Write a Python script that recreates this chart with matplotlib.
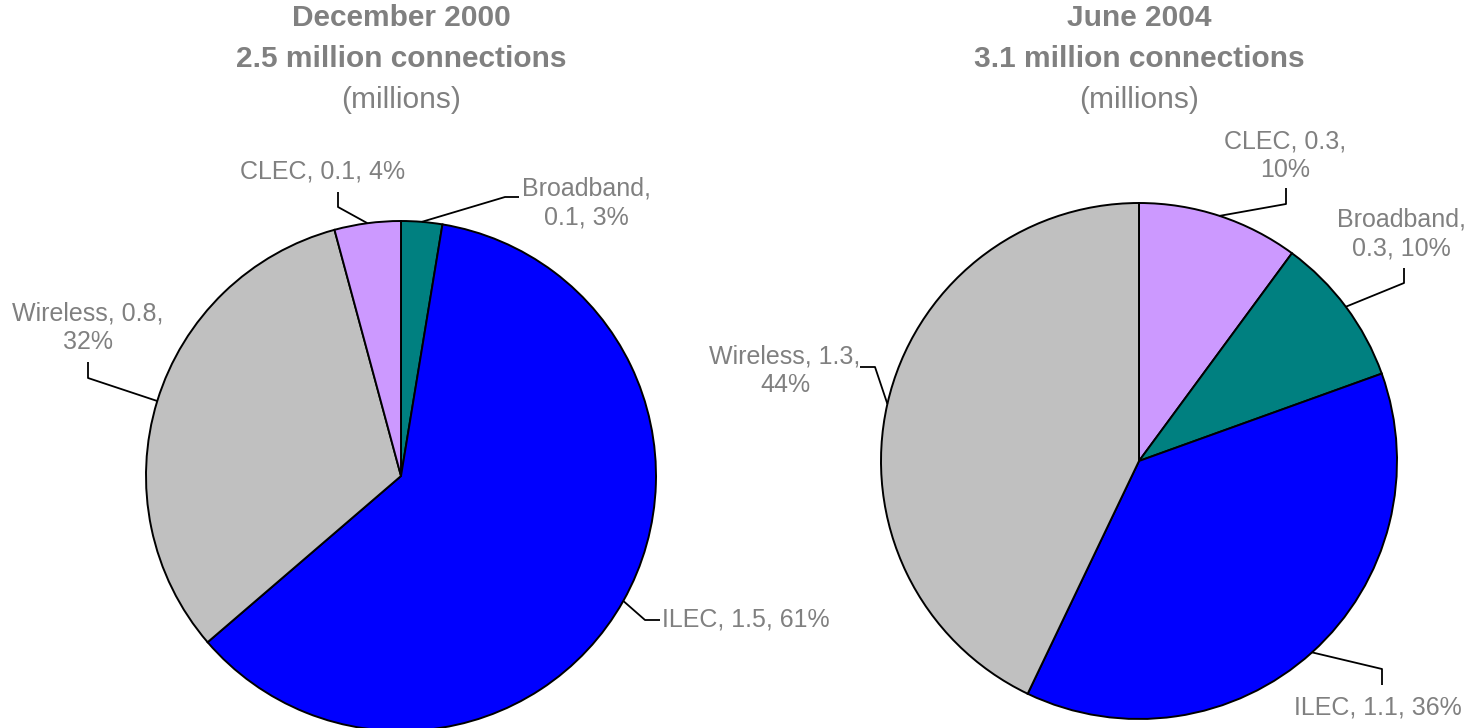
import numpy as np
import matplotlib
matplotlib.use("Agg")
import matplotlib.pyplot as plt

plt.rcParams["font.family"] = ["Liberation Sans", "DejaVu Sans"]

# datos
categorias_2000 = ["Broadband", "ILEC", "Wireless", "CLEC"]
valores_2000 = [0.1, 1.5, 0.8, 0.1]
porcentajes_2000 = [3, 61, 32, 4]
cuotas_2000 = [2.6, 61.1, 32.1, 4.2]   # tamaño de las porciones (%)

categorias_2004 = ["CLEC", "Broadband", "ILEC", "Wireless"]
valores_2004 = [0.3, 0.3, 1.1, 1.3]
porcentajes_2004 = [10, 10, 36, 44]
cuotas_2004 = [10.1, 9.4, 37.6, 42.9]

colores = {"Broadband": "#008080", "ILEC": "#0000FF",
           "Wireless": "#C0C0C0", "CLEC": "#CC99FF"}
gris = "#808080"
W, H = 1466, 728

fig = plt.figure(figsize=(W / 100, H / 100), dpi=100)
ax = fig.add_axes([0, 0, 1, 1])


def Y(y):
    # coordenada en pixeles desde arriba -> datos
    return H - y


def dibujar_pie(cuotas, categorias, valores, pct, centro, radio, etiquetas):
    wedges, _ = ax.pie(cuotas, colors=[colores[c] for c in categorias],
                       center=centro, radius=radio, startangle=90,
                       counterclock=False,
                       wedgeprops=dict(edgecolor="black", linewidth=1.4))
    for w, cat, v, p in zip(wedges, categorias, valores, pct):
        pos, codo, punta, texto = etiquetas[cat]
        ang = np.deg2rad((w.theta1 + w.theta2) / 2)
        borde = (centro[0] + radio * np.cos(ang), centro[1] + radio * np.sin(ang))
        ax.plot([borde[0], codo[0], punta[0]], [borde[1], Y(codo[1]), Y(punta[1])],
                color="black", lw=1.3, solid_capstyle="butt")
        ax.text(pos[0], Y(pos[1]), texto.format(cat, v, p), ha="center",
                va="center", fontsize=18, color=gris, linespacing=1.25)


# texto: posicion, codo, punta de la linea (pixeles)
etq_2000 = {
    "CLEC": ((323, 172), (338, 207), (338, 192), "{}, {}, {}%"),
    "Broadband": ((586, 203), (505, 197), (519, 197), "{},\n{}, {}%"),
    "Wireless": ((88, 328), (88, 378), (88, 362), "{}, {},\n{}%"),
    "ILEC": ((746, 620), (645, 620), (660, 620), "{}, {}, {}%"),
}
etq_2004 = {
    "CLEC": ((1285, 156), (1286, 204), (1286, 188), "{}, {},\n{}%"),
    "Broadband": ((1401, 234), (1404, 283), (1404, 268), "{},\n{}, {}%"),
    "Wireless": ((785, 371), (875, 367), (860, 367), "{}, {},\n{}%"),
    "ILEC": ((1378, 707), (1382, 669), (1382, 685), "{}, {}, {}%"),
}

dibujar_pie(cuotas_2000, categorias_2000, valores_2000, porcentajes_2000,
            (401, Y(476)), 255, etq_2000)
dibujar_pie(cuotas_2004, categorias_2004, valores_2004, porcentajes_2004,
            (1139, Y(461)), 258, etq_2004)

# titulos
for x, lineas in [(401, ["December 2000", "2.5 million connections"]),
                  (1139, ["June 2004", "3.1 million connections"])]:
    ax.text(x, Y(18), lineas[0], ha="center", va="center", fontsize=21.5,
            fontweight="bold", color=gris)
    ax.text(x, Y(59), lineas[1], ha="center", va="center", fontsize=21.5,
            fontweight="bold", color=gris)
    ax.text(x, Y(100), "(millions)", ha="center", va="center", fontsize=21.5,
            color=gris)

ax.set_xlim(0, W)
ax.set_ylim(0, H)
ax.set_aspect("auto")
ax.axis("off")
fig.savefig("out.png", dpi=100)
